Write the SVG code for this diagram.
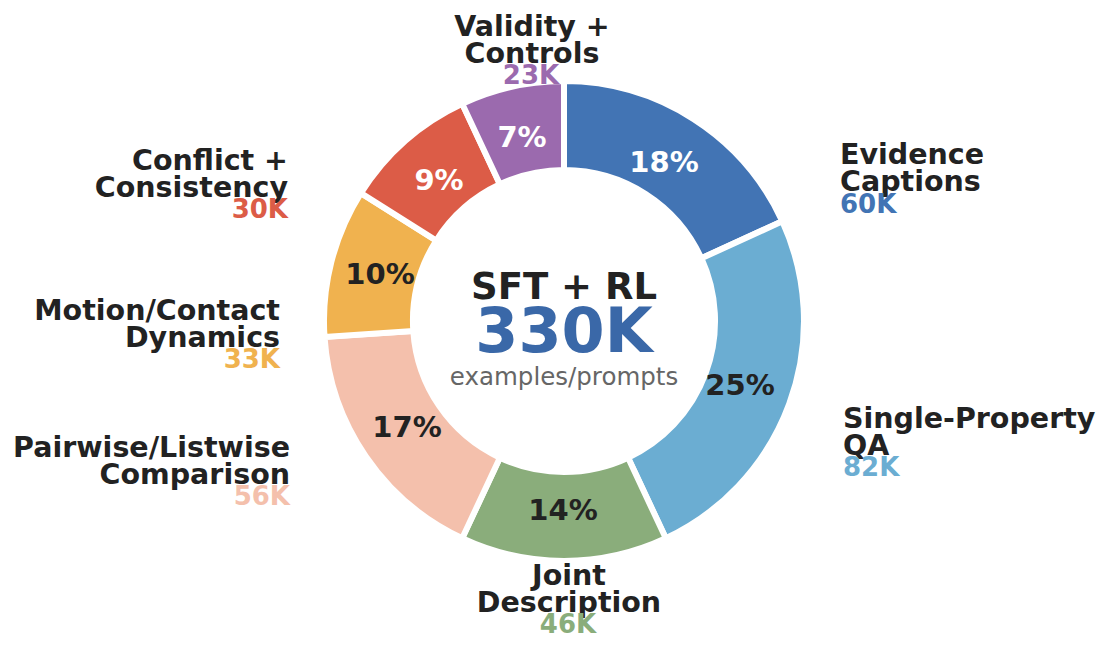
<svg xmlns="http://www.w3.org/2000/svg" width="1108" height="645" viewBox="0 0 1108 645">
<style>
text{font-family:"DejaVu Sans","Liberation Sans",sans-serif;font-weight:bold}
.w{stroke:#fff;stroke-width:6;stroke-linejoin:miter}
.p{font-size:29px;text-anchor:middle;dominant-baseline:central}
.l{font-size:28.5px;fill:#222}
.n{font-size:26px}
.r{text-anchor:end}.m{text-anchor:middle}
</style>
<rect width="1108" height="645" fill="#fff"/>
<g id="wedges">
<g id="evidence"><path class="w" fill="#4274b4" d="M564,81 A240,240 0 0 1 782.3,221.3 L701.4,258.3 A151,151 0 0 0 564,170 Z"/><text class="p" x="664" y="162" fill="#fff">18%</text></g>
<g id="single"><path class="w" fill="#6badd2" d="M782.3,221.3 A240,240 0 0 1 665.8,538.3 L628.1,457.7 A151,151 0 0 0 701.4,258.3 Z"/><text class="p" x="740" y="385" fill="#222">25%</text></g>
<g id="joint"><path class="w" fill="#8aad7b" d="M665.8,538.3 A240,240 0 0 1 462.2,538.3 L499.9,457.7 A151,151 0 0 0 628.1,457.7 Z"/><text class="p" x="563" y="510" fill="#222">14%</text></g>
<g id="pairwise"><path class="w" fill="#f4c0ac" d="M462.2,538.3 A240,240 0 0 1 324.5,336.9 L413.3,331 A151,151 0 0 0 499.9,457.7 Z"/><text class="p" x="407" y="427" fill="#222">17%</text></g>
<g id="motion"><path class="w" fill="#f0b24f" d="M324.5,336.9 A240,240 0 0 1 360.9,193.1 L436.2,240.5 A151,151 0 0 0 413.3,331 Z"/><text class="p" x="380" y="274" fill="#222">10%</text></g>
<g id="conflict"><path class="w" fill="#dc5c47" d="M360.9,193.1 A240,240 0 0 1 462.2,103.7 L499.9,184.3 A151,151 0 0 0 436.2,240.5 Z"/><text class="p" x="439" y="180" fill="#fff">9%</text></g>
<g id="validity"><path class="w" fill="#9b6aae" d="M462.2,103.7 A240,240 0 0 1 564,81 L564,170 A151,151 0 0 0 499.9,184.3 Z"/><text class="p" x="522" y="137" fill="#fff">7%</text></g>
</g>
<g id="center">
<text x="564" y="299" class="m" font-size="37" fill="#222">SFT + RL</text>
<text x="564" y="352" class="m" font-size="62" fill="#3a68a8">330K</text>
<text x="564" y="385" class="m" font-size="24.5" fill="#666" style="font-weight:normal">examples/prompts</text>
</g>
<g id="labels">
<text class="l" x="840" y="164">Evidence</text><text class="l" x="840" y="191">Captions</text><text class="n" x="840" y="213" fill="#4274b4">60K</text>
<text class="l" x="843" y="428">Single-Property</text><text class="l" x="843" y="455">QA</text><text class="n" x="843" y="476" fill="#6badd2">82K</text>
<text class="l m" x="569" y="585">Joint</text><text class="l m" x="569" y="612">Description</text><text class="n m" x="568" y="633" fill="#8aad7b">46K</text>
<text class="l r" x="290" y="457">Pairwise/Listwise</text><text class="l r" x="290" y="484">Comparison</text><text class="n r" x="290" y="505" fill="#f4c0ac">56K</text>
<text class="l r" x="280" y="320">Motion/Contact</text><text class="l r" x="280" y="347">Dynamics</text><text class="n r" x="280" y="368" fill="#f0b24f">33K</text>
<text class="l r" x="288" y="170">Conflict +</text><text class="l r" x="288" y="197">Consistency</text><text class="n r" x="288" y="218" fill="#dc5c47">30K</text>
<text class="l m" x="532" y="36">Validity +</text><text class="l m" x="532" y="63">Controls</text><text class="n m" x="531" y="84" fill="#9b6aae">23K</text>
</g>
</svg>
